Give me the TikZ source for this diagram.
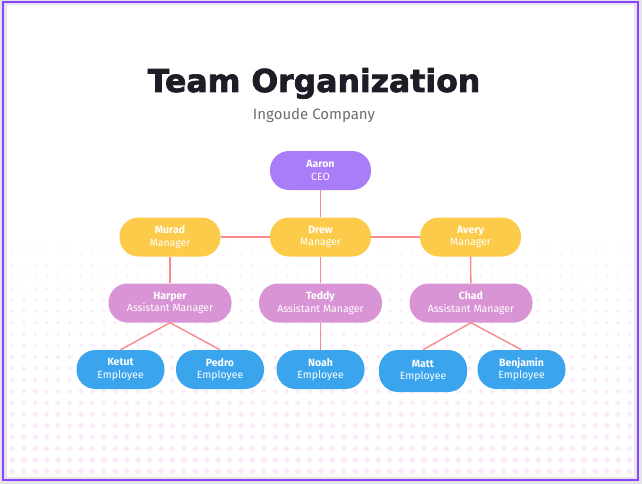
\documentclass[tikz,border=0pt]{standalone}
\usepackage{fontspec}
\usepackage{xcolor}
\setmainfont{Fira Sans}
\newfontfamily\titlefont[BoldFeatures={FakeBold=2.2}]{DejaVu Sans}
\usetikzlibrary{calc}
\definecolor{ceofill}{HTML}{A97CF8}
\definecolor{mgrfill}{HTML}{FCCB4A}
\definecolor{asstfill}{HTML}{D994D6}
\definecolor{empfill}{HTML}{3AA4EC}
\definecolor{linkred}{HTML}{F78A8A}
\definecolor{framepurple}{HTML}{8C44FF}
\definecolor{rimgray}{HTML}{E4E5EA}
\definecolor{dotpink}{HTML}{FCEAFA}
\definecolor{inkdark}{HTML}{1D1D27}
\definecolor{subgray}{HTML}{6E6E73}
\tikzset{person/.style={rounded corners=19pt, minimum height=39pt, inner sep=0, align=center, text=white, font=\fontsize{10.5}{12.5}\selectfont}}
\tikzset{ceobox/.style={person, fill=ceofill, minimum width=101pt}}
\tikzset{mgrbox/.style={person, fill=mgrfill, minimum width=101pt}}
\tikzset{asstbox/.style={person, fill=asstfill, minimum width=123pt}}
\tikzset{empbox/.style={person, fill=empfill, minimum width=88pt}}
\tikzset{every edge/.style={draw=linkred, line width=1.4pt}}

\begin{document}
\begin{tikzpicture}[x=1pt, y=-1pt]
    \useasboundingbox (0, 0) rectangle (642, 484);
    \fill[rimgray] (0, 0) rectangle (642, 484);
    \fill[white] (7, 5.3) rectangle (633.7, 476.7);
    \draw[framepurple, line width=2pt] (3.3, 2) rectangle (637.7, 480);

    % dotted backdrop, dots grow towards the bottom
    \foreach \r in {0,...,20} {
      \pgfmathsetmacro\s{0.9+0.13*\r}
      \foreach \c in {1,...,55} {
        \fill[dotpink] ({1+11.43*\c}, {242.7+11.43*\r}) +(0,-\s) -- +(\s,0) -- +(0,\s) -- +(-\s,0) -- cycle;
      }
    }

    \node[anchor=base, text=inkdark, font=\titlefont\bfseries\fontsize{31.5}{36}\selectfont] at (314, 92) (title) {Team Organization};
    \node[anchor=base, text=subgray, font=\fontsize{15}{18}\selectfont] at (314, 120) (company) {Ingoude Company};

    \node[ceobox] at (320.5, 170.5) (aaron) {\textbf{Aaron}\\CEO};

    \node[mgrbox] at (170, 237) (murad) {\textbf{Murad}\\Manager};
    \node[mgrbox] at (320.5, 237) (drew) {\textbf{Drew}\\Manager};
    \node[mgrbox] at (470.5, 237) (avery) {\textbf{Avery}\\Manager};

    \node[asstbox] at (170, 303) (harper) {\textbf{Harper}\\Assistant Manager};
    \node[asstbox] at (320.5, 303) (teddy) {\textbf{Teddy}\\Assistant Manager};
    \node[asstbox] at (471, 303) (chad) {\textbf{Chad}\\Assistant Manager};

    \node[empbox] at (120.5, 369.5) (ketut) {\textbf{Ketut}\\Employee};
    \node[empbox] at (220, 369.5) (pedro) {\textbf{Pedro}\\Employee};
    \node[empbox] at (320.5, 369.5) (noah) {\textbf{Noah}\\Employee};
    \node[empbox, minimum height=42pt] at (423, 371) (matt) {\textbf{Matt}\\Employee};
    \node[empbox] at (521.5, 369.5) (benjamin) {\textbf{Benjamin}\\Employee};

    \draw (aaron) edge (drew);
    \draw (murad) edge (drew);
    \draw (drew) edge (avery);

    \draw (murad) edge (harper);
    \draw (drew) edge (teddy);
    \draw (avery) edge (chad);

    \draw (harper.south) edge (ketut.north);
    \draw (harper.south) edge (pedro.north);
    \draw (teddy) edge (noah);
    \draw (chad.south) edge (matt.north);
    \draw (chad.south) edge (benjamin.north);
\end{tikzpicture}
\end{document}
